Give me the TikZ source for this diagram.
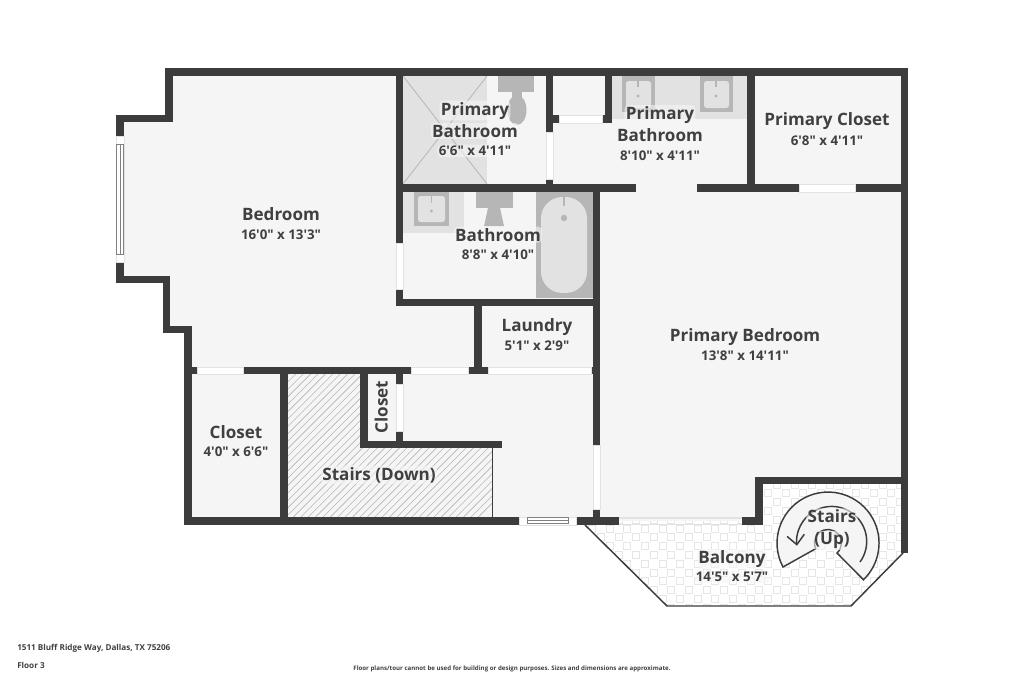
\documentclass[tikz,border=0pt]{standalone}
\usepackage{fontspec}
\setmainfont{Open Sans}[Ligatures=TeXOff]
\usetikzlibrary{arrows.meta}
\definecolor{walldark}{HTML}{3C3C3C}
\definecolor{roomfill}{HTML}{F5F5F5}
\definecolor{fixlight}{HTML}{E2E2E2}
\definecolor{fixdark}{HTML}{B6B6B6}
\definecolor{tileline}{HTML}{E6E6E6}
\definecolor{textdark}{HTML}{404040}
\tikzset{
  wall/.style={fill=walldark},
  fixa/.style={fill=fixlight},
  fixb/.style={fill=fixdark},
  pane/.style={fill=white,draw=fixlight,line width=0.6pt},
  halo/.style={anchor=base,fill=roomfill,fill opacity=0.6,text opacity=1,inner sep=1pt,rounded corners=3pt},
  roomname/.style={halo,text=textdark,font=\fontsize{12.8}{15}\selectfont\bfseries},
  roomsize/.style={halo,text=textdark,font=\fontsize{10}{12}\selectfont\bfseries},
  footer/.style={text=textdark,font=\fontsize{6.1}{8}\selectfont\bfseries,inner sep=0pt},
  outline/.style={draw=walldark,line width=1.1pt}
}
\begin{document}
\begin{tikzpicture}[x=0.75pt,y=-0.75pt]
\useasboundingbox (0,0) rectangle (1024,682);
% room floors
\fill[roomfill] (169,72) -- (904,72) -- (904,480) -- (759,480) -- (759,521) -- (188,521) -- (188,329) -- (166,329) -- (166,280) -- (120,280) -- (120,118) -- (169,118) -- cycle;
% balcony
\begin{scope}
\clip (585,525) -- (667,606) -- (851,606) -- (903,553) -- (903,484) -- (763,484) -- (763,521) -- (585,521) -- cycle;
\fill[white] (585,481) rectangle (903,606);
\foreach \ix in {0,...,39} \foreach \iy in {0,...,14} {
  \ifodd\numexpr\ix+\iy\relax
    \draw[tileline,line width=0.5pt] (570.9+8.8*\ix,481+8.8*\iy) rectangle ++(7,7);
  \fi
}
\end{scope}
\draw[outline] (585,525) -- (667,606) -- (851,606) -- (903,553);
% stairs down
\begin{scope}
\clip (288,374) -- (360,374) -- (360,448) -- (492,448) -- (492,517) -- (288,517) -- cycle;
\foreach \hx in {0,...,46}
  \draw[fixdark,line width=0.45pt] (288+7.4*\hx-150,517) -- (288+7.4*\hx,367);
\end{scope}
\draw[walldark,line width=0.7pt] (492,448) -- (492,517);
% fixtures, upper bath
\fill[fixa] (403,76) rectangle (487,184);
\draw[fixdark,line width=0.6pt] (403,76) -- (487,184) (403,184) -- (487,76);
\fill[fixb] (498,76) rectangle (534,92);
\fill[fixb] (512,92) rectangle (522,104);
\fill[fixb] (517,110) ellipse (9.5 and 15);
% fixtures, twin vanity
\fill[fixa] (612,76) rectangle (747,119);
\foreach \sx in {622,700} {
  \fill[fixb] (\sx,76) rectangle (\sx+33,112);
  \fill[fixa,rounded corners=2pt] (\sx+4,81) rectangle (\sx+29,108);
  \draw[fixdark,line width=0.8pt] (\sx+16,80) -- (\sx+16,87);
  \fill[fixdark] (\sx+16,96) circle (1.7);
}
% fixtures, bathroom
\fill[fixa] (403,192) rectangle (464,233);
\fill[fixb] (414,192) rectangle (449,226);
\fill[fixa,rounded corners=2pt] (418,196) rectangle (445,222);
\draw[fixdark,line width=0.8pt] (431.5,196) -- (431.5,203);
\fill[fixdark] (431.5,211) circle (1.7);
\fill[fixb] (476,192) rectangle (513,208);
\fill[fixb] (488,208) -- (500,208) -- (504,226) -- (484,226) -- cycle;
\fill[fixb] (535.5,192) rectangle (593,298);
\fill[fixa,rounded corners=16pt] (541,197) rectangle (587,293);
\draw[fixdark,line width=0.9pt] (564,197) -- (564,206);
\fill[fixdark] (564,218) circle (3.2);
% walls
\foreach \xa/\ya/\xb/\yb in {
  165/68/908/76, 165/68/173/122, 116/115/173/122, 116/115/124/136, 116/262/124/283,
  116/276/170/283, 163/276/170/333, 163/326/192/333, 184/326/192/525,
  184/517/519/525, 576/517/619/525, 593/509/600/517, 742/517/763/525,
  755/477/763/525, 755/477/908/484, 901/68/908/553,
  396/68/403/243, 396/289/403/306, 396/299/600/306,
  396/184/636/192, 697/184/799/192, 855/184/908/192,
  546/68/553/132, 546/179/553/184, 605/68/612/123,
  553/115/559/123, 602/115/605/123, 747/68/755/192,
  593/192/600/445, 474/299/482/374,
  184/367/197/374, 243/367/411/374, 468/367/488/374, 591/367/600/374,
  280/367/288/521, 360/367/368/448, 360/441/502/448,
  396/367/403/384, 396/431/403/441
} {
  \fill[wall] (\xa,\ya) rectangle (\xb,\yb);
}
% windows
\foreach \xa/\ya/\xb/\yb in {
  116/136/124/262, 396/243/403/289, 546/132/553/179, 559/115/602/123,
  799/184/855/192, 197/367/243/374, 411/367/468/374, 488/367/591/374,
  396/384/403/431, 593/445/600/509, 519/517/576/525
} {
  \filldraw[pane] (\xa,\ya) rectangle (\xb,\yb);
}
\draw[gray,line width=0.7pt] (116.5,144) rectangle (123.5,254) (120,144) -- (120,254);
\draw[gray,line width=0.7pt] (527,517.5) rectangle (568,523.5) (527,520.5) -- (568,520.5);
\draw[fixlight,line width=0.8pt] (619,518) -- (742,518) (619,524.5) -- (742,524.5);
% stairs up
\filldraw[roomfill,draw=walldark,line width=1.1pt] (783,567) arc[start angle=152,end angle=406,radius=51] -- (837,553) arc[start angle=48,end angle=-205,radius=13.5] -- cycle;
\draw[walldark,line width=1.1pt,-{Straight Barb[length=7pt,width=13pt]}] (860,562) arc[start angle=36,end angle=-187,radius=35];
% labels
\node (bedroomname) at (281,220.7) [roomname] {Bedroom};
\node (bedroomsize) at (281,239.3) [roomsize] {16'0" x 13'3"};
\node (bathaname) at (475,115) [roomname] {Primary};
\node (bathanameb) at (475,137.3) [roomname] {Bathroom};
\node (bathasize) at (475,155.7) [roomsize] {6'6" x 4'11"};
\node (bathbname) at (660,119.3) [roomname] {Primary};
\node (bathbnameb) at (660,141.7) [roomname] {Bathroom};
\node (bathbsize) at (660,160) [roomsize] {8'10" x 4'11"};
\node (pclosetname) at (827,125.7) [roomname] {Primary Closet};
\node (pclosetsize) at (827,145) [roomsize] {6'8" x 4'11"};
\node (bathname) at (498,241) [roomname] {Bathroom};
\node (bathsize) at (498,259.3) [roomsize] {8'8" x 4'10"};
\node (laundryname) at (537,331.7) [roomname] {Laundry};
\node (laundrysize) at (537,350.7) [roomsize] {5'1" x 2'9"};
\node (pbedname) at (745,341) [roomname] {Primary Bedroom};
\node (pbedsize) at (745,360) [roomsize] {13'8" x 14'11"};
\node (closetname) at (236,438.3) [roomname] {Closet};
\node (closetsize) at (236,456.7) [roomsize] {4'0" x 6'6"};
\node (stairsdown) at (379,480) [roomname] {Stairs (Down)};
\node (closetb) at (387.7,407) [roomname,rotate=90] {Closet};
\node (balconyname) at (732,563.3) [roomname] {Balcony};
\node (balconysize) at (732,581.7) [roomsize] {14'5" x 5'7"};
\node (stairsup) at (832,522.7) [roomname] {Stairs};
\node (stairsupb) at (832,544.5) [roomname] {(Up)};
% footer
\node (address) at (17,648) [footer,anchor=west] {1511 Bluff Ridge Way, Dallas, TX 75206};
\node (floorno) at (17,665) [footer,anchor=west] {Floor 3};
\node (notice) at (512,668.5) [footer,font=\fontsize{4.6}{6}\selectfont\bfseries] {Floor plans/tour cannot be used for building or design purposes. Sizes and dimensions are approximate.};
\end{tikzpicture}
\end{document}
